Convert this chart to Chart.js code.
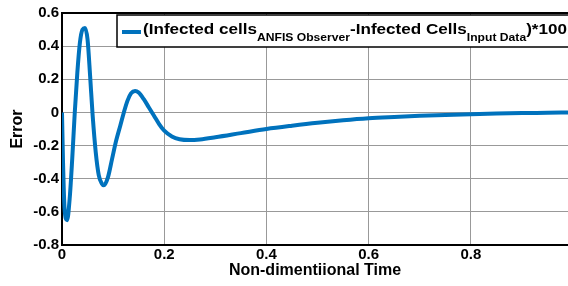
<!DOCTYPE html>
<html lang="en">
<head>
<meta charset="UTF-8">
<title>Error plot</title>
<style>
  body { margin: 0; background: #fff; }
  #wrap { width: 568px; height: 286px; position: relative; }
</style>
</head>
<body>
<div id="wrap"><canvas id="c"></canvas></div>
<script src="https://cdn.jsdelivr.net/npm/chart.js"></script>
<script>
  // values
  const timeVals = [0, 0.002, 0.005, 0.010, 0.015, 0.020, 0.025, 0.030, 0.035, 0.040, 0.045, 0.050,
    0.055, 0.060, 0.066, 0.072, 0.078, 0.082, 0.090, 0.098, 0.106, 0.114, 0.121, 0.128, 0.135,
    0.143, 0.150, 0.160, 0.170, 0.180, 0.190, 0.200, 0.215, 0.230, 0.250, 0.270, 0.300, 0.350,
    0.400, 0.450, 0.500, 0.550, 0.600, 0.650, 0.700, 0.750, 0.800, 0.850, 0.900, 0.950, 0.990];
  const errorVals = [0, -0.30, -0.58, -0.65, -0.52, -0.28, 0.0, 0.24, 0.42, 0.50, 0.51, 0.44,
    0.22, -0.02, -0.24, -0.38, -0.43, -0.44, -0.39, -0.28, -0.17, -0.08, 0.0, 0.07, 0.115,
    0.13, 0.12, 0.08, 0.03, -0.02, -0.07, -0.11, -0.145, -0.162, -0.167, -0.163, -0.15, -0.125,
    -0.10, -0.08, -0.062, -0.047, -0.035, -0.027, -0.02, -0.015, -0.011, -0.007, -0.004, -0.002, 0.0];
  const yTicks = [0.6, 0.4, 0.2, 0, -0.2, -0.4, -0.6, -0.8];
  const xTicks = [0, 0.2, 0.4, 0.6, 0.8];

  const FONT = '"Liberation Sans", Arial, sans-serif';
  const BLUE = '#0072BD';

  // legend with subscripts, box and top border
  const legendPlugin = {
    id: 'matlabLegend',
    afterDraw(chart) {
      const ctx = chart.ctx;
      const a = chart.chartArea;
      ctx.save();
      // top border of the axes box
      ctx.strokeStyle = '#000';
      ctx.lineWidth = 2;
      ctx.beginPath();
      ctx.moveTo(a.left, a.top);
      ctx.lineTo(a.right, a.top);
      ctx.stroke();

      // legend box
      const bx = 117, by = 15, bw = 460, bh = 32;
      ctx.fillStyle = '#fff';
      ctx.fillRect(bx, by, bw, bh);
      ctx.lineWidth = 1.5;
      ctx.strokeRect(bx, by, bw, bh);

      ctx.strokeStyle = BLUE;
      ctx.lineWidth = 4;
      ctx.beginPath();
      ctx.moveTo(122, 32);
      ctx.lineTo(141, 32);
      ctx.stroke();

      const parts = [
        ['(Infected cells', 15.5, 34],
        ['ANFIS Observer', 11, 41],
        ['-Infected Cells', 15.5, 34],
        ['Input Data', 11, 41],
        [')*100', 15.5, 34]
      ];
      // stretch text horizontally to the width it takes in the original
      let total = 0;
      parts.forEach(([t, s]) => {
        ctx.font = 'bold ' + s + 'px ' + FONT;
        total += ctx.measureText(t).width;
      });
      const k = (567 - 143) / total;
      ctx.fillStyle = '#000';
      ctx.textBaseline = 'alphabetic';
      let x = 143;
      parts.forEach(([t, s, y]) => {
        ctx.font = 'bold ' + s + 'px ' + FONT;
        ctx.save();
        ctx.translate(x, y);
        ctx.scale(k, 1);
        ctx.fillText(t, 0, 0);
        ctx.restore();
        x += ctx.measureText(t).width * k;
      });
      ctx.restore();
    }
  };

  new Chart(document.getElementById('c'), {
    type: 'line',
    data: {
      datasets: [{
        data: timeVals.map((t, i) => ({ x: t, y: errorVals[i] })),
        borderColor: BLUE,
        borderWidth: 4,
        pointRadius: 0,
        cubicInterpolationMode: 'monotone',
        fill: false
      }]
    },
    options: {
      responsive: true,
      maintainAspectRatio: false,
      animation: false,
      layout: { padding: { top: 13, right: 0, left: 0, bottom: 0 } },
      plugins: { legend: { display: false }, tooltip: { enabled: false } },
      scales: {
        x: {
          type: 'linear',
          min: 0,
          max: 0.99,
          afterBuildTicks: s => { s.ticks = xTicks.map(v => ({ value: v })); },
          afterFit: s => { s.height = 41; },
          ticks: {
            color: '#000',
            font: { family: FONT, size: 15, weight: 'bold' },
            padding: 1,
            maxRotation: 0,
            callback: v => String(Number(v.toFixed(1)))
          },
          grid: { color: '#999', lineWidth: 1, drawTicks: false },
          border: { color: '#000', width: 2 },
          title: {
            display: true,
            text: 'Non-dimentiional Time',
            color: '#000',
            font: { family: FONT, size: 16, weight: 'bold' },
            padding: { top: 0, bottom: 6 }
          }
        },
        y: {
          min: -0.8,
          max: 0.6,
          afterBuildTicks: s => { s.ticks = yTicks.map(v => ({ value: v })); },
          afterFit: s => { s.width = 62; },
          ticks: {
            color: '#000',
            font: { family: FONT, size: 15, weight: 'bold' },
            padding: 3,
            callback: v => String(Number(v.toFixed(1)))
          },
          grid: { color: '#999', lineWidth: 1, drawTicks: false },
          border: { color: '#000', width: 2 },
          title: {
            display: true,
            text: 'Error',
            color: '#000',
            font: { family: FONT, size: 16, weight: 'bold' },
            padding: { top: 8, bottom: 0 }
          }
        }
      }
    },
    plugins: [legendPlugin]
  });
</script>
</body>
</html>
